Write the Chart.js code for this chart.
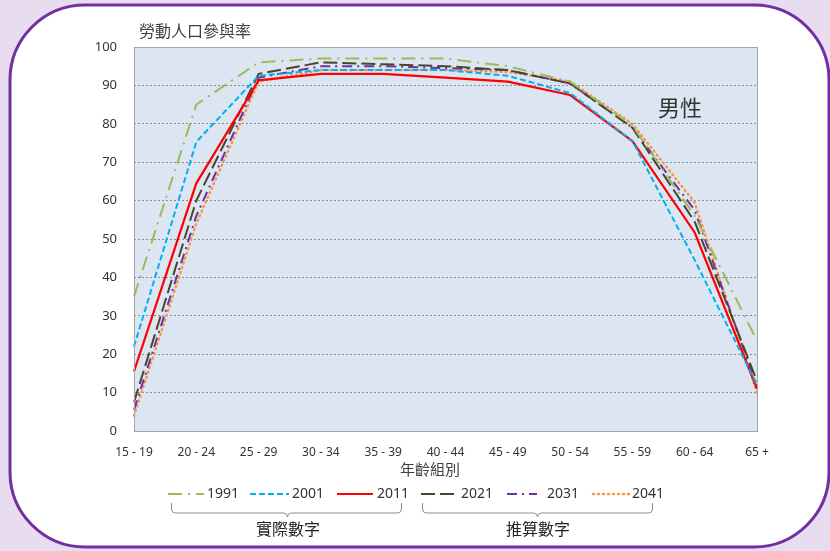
<!DOCTYPE html>
<html>
<head>
<meta charset="utf-8">
<script src="https://cdn.jsdelivr.net/npm/chart.js@4"></script>
<style>
  html, body { margin: 0; padding: 0; background: #e8dcf0; }
  #wrap { width: 830px; height: 551px; position: relative; }
</style>
</head>
<body>
<div id="wrap"><canvas id="cvs_line" width="830" height="551"></canvas></div>
<script>
var ageGroups = ["15 - 19", "20 - 24", "25 - 29", "30 - 34", "35 - 39", "40 - 44", "45 - 49", "50 - 54", "55 - 59", "60 - 64", "65 +"];
var yTicks = [0, 10, 20, 30, 40, 50, 60, 70, 80, 90, 100];

var rate1991 = [35, 85, 96, 97, 97, 97, 95, 91, 79.5, 56, 23.5];
var rate2001 = [22, 75.3, 92.5, 94, 94, 94, 92.5, 88, 75.5, 44.5, 12];
var rate2011 = [15.5, 64.5, 91.3, 93, 93, 92, 91, 87.5, 75.5, 51.7, 11];
var rate2021 = [7.5, 60, 93, 96, 95.5, 95, 94, 90.5, 79, 54.5, 13];
var rate2031 = [5.5, 56, 92, 95, 95, 94.5, 94, 90.5, 79, 57.5, 11.5];
var rate2041 = [4, 54, 91, 94, 94, 94, 93.5, 91, 80, 59.5, 10];

var cjk = '"Noto Sans CJK TC", "Noto Sans", sans-serif';
var num = '"Noto Sans", "Liberation Sans", sans-serif';

function series(label, data, color, dash, width, cap) {
    return {
        label: label,
        data: data,
        borderColor: color,
        backgroundColor: color,
        borderWidth: width || 2,
        borderDash: dash,
        borderCapStyle: cap || 'butt',
        pointRadius: 0,
        tension: 0,
        fill: false
    };
}

var datasets = [
    series("1991", rate1991, '#9bbb59', [14, 6, 2, 6]),
    series("2001", rate2001, '#00b0f0', [6, 3]),
    series("2011", rate2011, '#ff0000', [], 2.2),
    series("2021", rate2021, '#4a452a', [14, 5]),
    series("2031", rate2031, '#7030a0', [10, 5, 2, 5]),
    series("2041", rate2041, '#f79646', [1, 4], 2.5, 'round')
];

function roundRect(ctx, x, y, w, h, r) {
    ctx.beginPath();
    ctx.moveTo(x + r, y);
    ctx.lineTo(x + w - r, y);
    ctx.arcTo(x + w, y, x + w, y + r, r);
    ctx.lineTo(x + w, y + h - r);
    ctx.arcTo(x + w, y + h, x + w - r, y + h, r);
    ctx.lineTo(x + r, y + h);
    ctx.arcTo(x, y + h, x, y + h - r, r);
    ctx.lineTo(x, y + r);
    ctx.arcTo(x, y, x + r, y, r);
    ctx.closePath();
}

function bracket(ctx, x1, x2, cx) {
    var top = 503, mid = 513, r = 4;
    ctx.beginPath();
    ctx.moveTo(x1, top);
    ctx.lineTo(x1, mid - r);
    ctx.quadraticCurveTo(x1, mid, x1 + r, mid);
    ctx.lineTo(cx - r, mid);
    ctx.quadraticCurveTo(cx, mid, cx, mid + r);
    ctx.quadraticCurveTo(cx, mid, cx + r, mid);
    ctx.lineTo(x2 - r, mid);
    ctx.quadraticCurveTo(x2, mid, x2, mid - r);
    ctx.lineTo(x2, top);
    ctx.stroke();
}

var decor = {
    id: 'decor',
    beforeDraw: function(chart) {
        var ctx = chart.ctx, a = chart.chartArea;
        ctx.save();
        ctx.fillStyle = '#e8dcf0';
        ctx.fillRect(0, 0, chart.width, chart.height);
        roundRect(ctx, 10, 5, 819, 542, 75);
        ctx.fillStyle = '#ffffff';
        ctx.fill();
        ctx.lineWidth = 3;
        ctx.strokeStyle = '#7030a0';
        ctx.stroke();
        ctx.fillStyle = '#dce6f2';
        ctx.fillRect(a.left, a.top, a.right - a.left, a.bottom - a.top);
        ctx.restore();
    },
    afterDatasetsDraw: function(chart) {
        var ctx = chart.ctx, a = chart.chartArea;
        ctx.save();
        ctx.strokeStyle = '#a6a6a6';
        ctx.lineWidth = 1;
        ctx.strokeRect(a.left + 0.5, a.top + 0.5, a.right - a.left, a.bottom - a.top);

        ctx.fillStyle = '#404040';
        ctx.textBaseline = 'middle';
        ctx.textAlign = 'left';
        ctx.font = '16px ' + cjk;
        ctx.fillText('勞動人口參與率', 139, 31);
        ctx.textAlign = 'center';
        ctx.font = '15px ' + cjk;
        ctx.fillText('年齡組別', 430, 469);
        ctx.font = '22px ' + cjk;
        ctx.fillStyle = '#333333';
        ctx.fillText('男性', 680, 108);

        // legend
        var lx = [[168, 204], [250, 289], [337, 373], [421, 457], [507, 537], [593, 630]];
        var tx = [207, 292, 377, 461, 547, 632];
        chart.data.datasets.forEach(function(ds, i) {
            ctx.beginPath();
            ctx.strokeStyle = ds.borderColor;
            ctx.lineWidth = ds.borderWidth;
            ctx.lineCap = ds.borderCapStyle;
            ctx.setLineDash(ds.borderDash);
            ctx.moveTo(lx[i][0], 494);
            ctx.lineTo(lx[i][1], 494);
            ctx.stroke();
            ctx.setLineDash([]);
            ctx.lineCap = 'butt';
            ctx.fillStyle = '#333333';
            ctx.textAlign = 'left';
            ctx.font = '14px ' + num;
            ctx.fillText(ds.label, tx[i], 494);
        });

        ctx.strokeStyle = '#8c8c8c';
        ctx.lineWidth = 1;
        bracket(ctx, 171.5, 401.5, 287.5);
        bracket(ctx, 422.5, 652.5, 537.5);
        ctx.fillStyle = '#222222';
        ctx.textAlign = 'center';
        ctx.font = '16px ' + cjk;
        ctx.fillText('實際數字', 288, 529);
        ctx.fillText('推算數字', 538, 529);
        ctx.restore();
    }
};

var config = {
    type: 'line',
    data: {
        labels: ageGroups,
        datasets: datasets
    },
    options: {
        responsive: false,
        animation: false,
        layout: {
            padding: { top: 47, right: 73, bottom: 80, left: 0 }
        },
        plugins: {
            legend: { display: false },
            title: { display: false },
            tooltip: { enabled: false }
        },
        scales: {
            x: {
                offset: false,
                grid: { display: false },
                border: { display: false },
                ticks: {
                    color: '#333333',
                    font: { family: num, size: 12 },
                    padding: 6,
                    maxRotation: 0,
                    autoSkip: false
                },
                afterFit: function(scale) { scale.height = 40; }
            },
            y: {
                min: 0,
                max: 100,
                afterBuildTicks: function(scale) {
                    scale.ticks = yTicks.map(function(v) { return { value: v }; });
                },
                grid: {
                    color: '#8c8c8c',
                    lineWidth: 1,
                    drawTicks: false
                },
                border: { display: false, dash: [2, 2] },
                ticks: {
                    color: '#333333',
                    font: { family: num, size: 13 },
                    padding: 17
                },
                afterFit: function(scale) { scale.width = 134; }
            }
        }
    },
    plugins: [decor]
};

window.onload = function() {
    window.myLine = new Chart(document.getElementById("cvs_line"), config);
};
</script>
</body>
</html>
